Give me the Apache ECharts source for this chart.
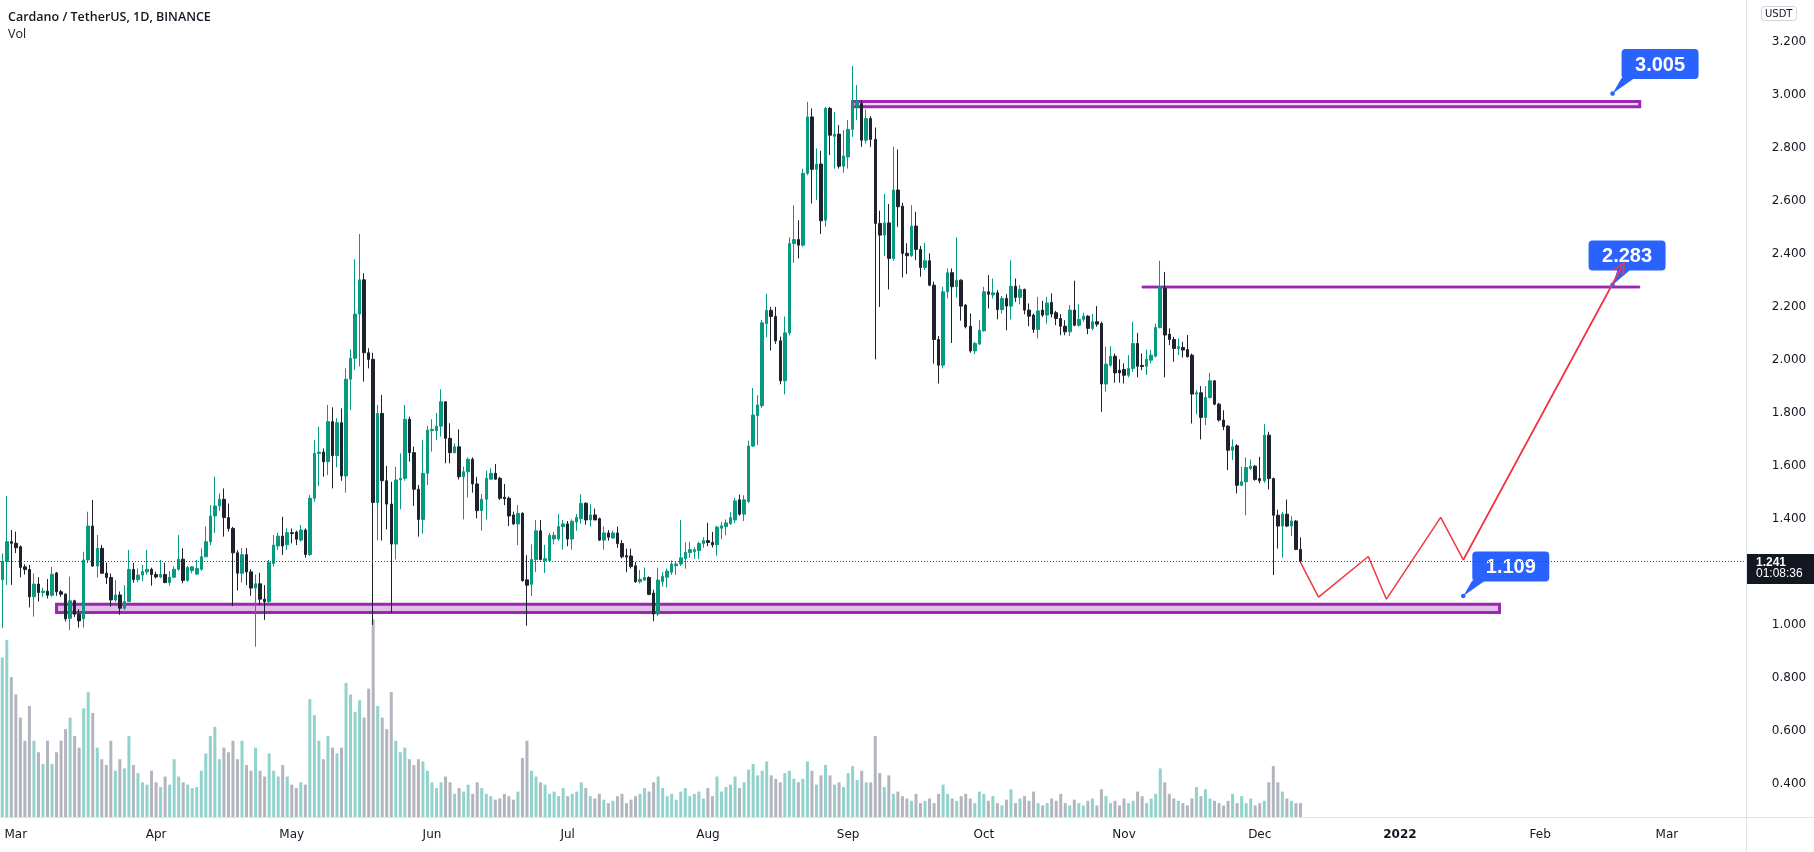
<!DOCTYPE html>
<html><head><meta charset="utf-8">
<script src="https://cdn.jsdelivr.net/npm/echarts@6/dist/echarts.min.js"></script>
<style>html,body{margin:0;padding:0;background:#fff}#c{width:1814px;height:852px}</style>
</head><body><div id="c"></div><script>
// ---------- DATA ----------
const startDay = '2021-02-26';
const axisDayCount = 386; // Feb 26 2021 .. Mar 18 2022
const openP = [1.170,1.239,1.314,1.308,1.295,1.219,1.209,1.106,1.154,1.122,
1.127,1.112,1.196,1.125,1.116,1.025,1.091,1.040,1.023,1.245,
1.373,1.222,1.289,1.195,1.179,1.094,1.113,1.063,1.088,1.209,
1.171,1.188,1.200,1.210,1.190,1.181,1.190,1.160,1.180,1.210,
1.248,1.168,1.205,1.192,1.210,1.257,1.314,1.411,1.449,1.474,
1.405,1.364,1.272,1.195,1.265,1.200,1.139,1.155,1.097,1.088,
1.232,1.298,1.335,1.302,1.348,1.350,1.320,1.358,1.266,1.478,
1.647,1.652,1.616,1.767,1.639,1.763,1.562,1.927,2.006,2.173,
2.302,2.027,2.002,1.462,1.798,1.544,1.456,1.305,1.547,1.553,
1.776,1.650,1.512,1.398,1.572,1.733,1.733,1.750,1.842,1.704,
1.650,1.672,1.559,1.578,1.625,1.532,1.431,1.474,1.550,1.572,
1.553,1.482,1.478,1.415,1.381,1.421,1.170,1.153,1.247,1.355,
1.243,1.243,1.324,1.324,1.371,1.381,1.324,1.388,1.401,1.459,
1.396,1.415,1.401,1.320,1.347,1.328,1.347,1.307,1.261,1.260,
1.223,1.163,1.169,1.179,1.120,1.041,1.163,1.180,1.199,1.223,
1.230,1.250,1.273,1.277,1.280,1.307,1.318,1.311,1.302,1.365,
1.371,1.382,1.396,1.472,1.418,1.466,1.675,1.790,1.827,2.137,
2.187,2.164,2.072,1.921,2.102,2.439,2.454,2.433,2.704,2.917,
2.719,2.739,2.527,2.949,2.844,2.852,2.731,2.766,2.870,2.958,
2.968,2.829,2.911,2.832,2.515,2.471,2.517,2.383,2.641,2.580,
2.402,2.393,2.505,2.417,2.349,2.374,2.282,2.077,1.980,2.257,
2.329,2.276,2.301,2.207,2.127,2.034,2.060,2.110,2.257,2.245,
2.253,2.190,2.232,2.203,2.278,2.236,2.266,2.188,2.169,2.115,
2.188,2.169,2.217,2.178,2.156,2.127,2.106,2.188,2.131,2.153,
2.165,2.119,2.144,2.137,1.909,1.980,2.014,1.961,1.964,1.942,
1.968,2.062,1.979,1.976,1.999,2.014,2.122,2.270,2.097,2.077,
2.043,2.047,2.039,2.018,1.871,1.876,1.783,1.858,1.921,1.833,
1.773,1.750,1.659,1.676,1.527,1.540,1.590,1.599,1.552,1.544,
1.716,1.552,1.414,1.373,1.418,1.373,1.392,1.285];
const highP = [1.270,1.486,1.358,1.352,1.300,1.229,1.226,1.194,1.180,1.140,
1.173,1.219,1.200,1.132,1.120,1.182,1.095,1.060,1.276,1.427,
1.471,1.339,1.302,1.235,1.194,1.169,1.126,1.150,1.283,1.234,
1.213,1.226,1.283,1.216,1.201,1.245,1.234,1.203,1.221,1.339,
1.289,1.222,1.222,1.245,1.289,1.371,1.452,1.559,1.496,1.515,
1.458,1.370,1.282,1.290,1.290,1.210,1.190,1.197,1.150,1.245,
1.339,1.348,1.408,1.364,1.364,1.356,1.377,1.364,1.490,1.698,
1.748,1.666,1.830,1.821,1.780,1.817,1.968,2.040,2.380,2.475,
2.327,2.044,2.027,1.830,1.868,1.600,1.540,1.597,1.647,1.830,
1.786,1.673,1.528,1.698,1.751,1.776,1.800,1.889,1.842,1.761,
1.685,1.738,1.597,1.632,1.632,1.559,1.494,1.582,1.591,1.607,
1.559,1.532,1.484,1.427,1.452,1.425,1.263,1.304,1.396,1.396,
1.302,1.347,1.351,1.418,1.396,1.392,1.398,1.418,1.493,1.463,
1.455,1.439,1.405,1.371,1.358,1.355,1.371,1.320,1.288,1.288,
1.237,1.207,1.216,1.183,1.133,1.216,1.199,1.213,1.243,1.237,
1.396,1.311,1.314,1.293,1.314,1.331,1.385,1.351,1.374,1.388,
1.398,1.425,1.479,1.492,1.489,1.695,1.894,1.867,2.150,2.250,
2.200,2.200,2.088,2.164,2.463,2.584,2.527,2.722,2.974,2.949,
2.798,2.789,2.955,2.955,2.936,2.886,2.867,2.905,3.109,3.037,
2.980,2.945,2.920,2.877,2.563,2.626,2.588,2.804,2.794,2.593,
2.440,2.584,2.559,2.430,2.442,2.402,2.295,2.090,2.276,2.345,
2.345,2.462,2.304,2.210,2.175,2.068,2.150,2.276,2.320,2.307,
2.263,2.241,2.248,2.376,2.307,2.282,2.269,2.213,2.175,2.238,
2.223,2.238,2.251,2.185,2.173,2.150,2.207,2.299,2.210,2.178,
2.169,2.173,2.203,2.144,2.050,2.052,2.024,2.002,1.987,2.018,
2.144,2.102,2.024,2.039,2.037,2.137,2.374,2.332,2.119,2.087,
2.081,2.068,2.094,2.024,1.886,1.901,1.901,1.951,1.924,1.838,
1.810,1.754,1.700,1.682,1.597,1.632,1.624,1.603,1.634,1.758,
1.729,1.556,1.435,1.427,1.473,1.410,1.396,1.330];
const lowP = [0.988,1.151,1.151,1.271,1.179,1.190,1.066,1.031,1.088,1.106,
1.100,1.106,1.110,1.106,1.013,0.980,1.030,0.990,0.990,1.233,
1.220,1.179,1.193,1.154,1.069,1.087,1.038,1.056,1.088,1.159,
1.162,1.166,1.190,1.148,1.175,1.176,1.157,1.148,1.176,1.204,
1.157,1.163,1.195,1.188,1.204,1.257,1.301,1.347,1.430,1.333,
1.352,1.071,1.130,1.160,1.150,1.110,0.918,1.075,1.019,1.080,
1.220,1.283,1.264,1.283,1.308,1.301,1.314,1.254,1.260,1.465,
1.524,1.559,1.566,1.515,1.595,1.544,1.499,1.811,1.962,1.975,
1.918,1.968,1.000,1.320,1.318,1.360,1.046,1.247,1.436,1.544,
1.616,1.449,1.333,1.345,1.528,1.654,1.698,1.710,1.610,1.610,
1.647,1.549,1.398,1.481,1.499,1.402,1.355,1.398,1.549,1.549,
1.471,1.452,1.373,1.377,1.301,1.163,0.997,1.109,1.199,1.243,
1.196,1.237,1.304,1.317,1.284,1.297,1.284,1.355,1.382,1.378,
1.371,1.396,1.317,1.284,1.318,1.324,1.291,1.251,1.199,1.213,
1.159,1.156,1.166,1.112,1.014,1.034,1.145,1.142,1.189,1.189,
1.223,1.212,1.253,1.250,1.248,1.291,1.297,1.292,1.261,1.324,
1.338,1.378,1.385,1.412,1.392,1.459,1.671,1.679,1.819,2.086,
2.035,2.061,1.908,1.870,2.093,2.366,2.383,2.427,2.697,2.590,
2.603,2.475,2.502,2.773,2.722,2.722,2.706,2.722,2.842,2.905,
2.804,2.817,2.804,2.002,2.200,2.392,2.266,2.374,2.502,2.311,
2.324,2.389,2.376,2.314,2.339,2.278,1.986,1.911,1.968,2.232,
2.064,2.236,2.148,2.119,2.027,2.022,2.056,2.106,2.194,2.232,
2.153,2.175,2.112,2.153,2.219,2.210,2.172,2.127,2.102,2.081,
2.162,2.137,2.160,2.131,2.093,2.093,2.090,2.127,2.125,2.144,
2.097,2.112,2.125,1.804,1.880,1.974,1.914,1.914,1.911,1.934,
1.955,1.934,1.961,1.943,1.987,2.009,2.119,1.934,2.056,1.993,
2.018,2.009,2.009,1.760,1.795,1.700,1.754,1.854,1.829,1.767,
1.735,1.584,1.622,1.496,1.524,1.414,1.584,1.544,1.534,1.536,
1.511,1.188,1.288,1.254,1.370,1.335,1.282,1.234];
const closeP = [1.239,1.314,1.308,1.291,1.217,1.209,1.106,1.154,1.122,1.127,
1.112,1.191,1.125,1.116,1.023,1.091,1.040,1.015,1.245,1.373,
1.222,1.289,1.195,1.179,1.094,1.113,1.063,1.088,1.209,1.171,
1.188,1.201,1.210,1.190,1.181,1.190,1.160,1.180,1.210,1.248,
1.168,1.217,1.219,1.213,1.257,1.314,1.411,1.449,1.474,1.405,
1.364,1.272,1.195,1.265,1.200,1.139,1.155,1.097,1.088,1.235,
1.301,1.335,1.298,1.348,1.345,1.323,1.358,1.266,1.478,1.647,
1.652,1.616,1.767,1.639,1.763,1.562,1.927,2.006,2.173,2.302,
2.027,2.002,1.462,1.798,1.544,1.456,1.305,1.547,1.553,1.776,
1.650,1.512,1.398,1.572,1.735,1.738,1.750,1.842,1.704,1.650,
1.672,1.559,1.578,1.625,1.532,1.431,1.474,1.553,1.572,1.550,
1.478,1.476,1.411,1.381,1.421,1.167,1.150,1.247,1.355,1.247,
1.250,1.338,1.338,1.371,1.381,1.324,1.391,1.405,1.459,1.396,
1.415,1.396,1.320,1.347,1.331,1.347,1.307,1.257,1.256,1.220,
1.163,1.172,1.179,1.115,1.041,1.169,1.183,1.203,1.230,1.230,
1.253,1.274,1.284,1.284,1.307,1.318,1.311,1.302,1.369,1.374,
1.385,1.405,1.468,1.418,1.472,1.675,1.792,1.830,2.140,2.187,
2.164,2.072,1.921,2.102,2.439,2.454,2.433,2.704,2.917,2.719,
2.739,2.525,2.949,2.848,2.852,2.731,2.769,2.870,2.974,2.974,
2.829,2.911,2.832,2.515,2.471,2.517,2.383,2.641,2.578,2.402,
2.393,2.505,2.417,2.349,2.374,2.282,2.077,1.980,2.257,2.329,
2.276,2.301,2.203,2.125,2.034,2.062,2.112,2.257,2.248,2.253,
2.190,2.232,2.203,2.278,2.236,2.266,2.188,2.165,2.115,2.185,
2.169,2.215,2.173,2.156,2.127,2.106,2.188,2.131,2.153,2.165,
2.119,2.144,2.135,1.909,1.984,2.014,1.951,1.951,1.942,1.968,
2.062,1.976,1.975,2.002,2.018,2.122,2.276,2.094,2.077,2.043,
2.050,2.037,2.012,1.871,1.876,1.783,1.858,1.921,1.833,1.773,
1.748,1.659,1.672,1.527,1.540,1.594,1.599,1.549,1.544,1.716,
1.552,1.414,1.373,1.418,1.373,1.392,1.285,1.241];
const volume = [138,153,121,106,86,66,96,66,
56,46,66,46,56,66,76,86,70,60,
94,108,
90,60,50,45,66,40,50,42,70,45,38,
30,28,40,30,26,35,28,50,35,30,28,25,26,40,55,
70,78,50,60,56,66,
50,66,45,40,60,40,35,55,
40,35,45,35,28,25,30,28,102,
88,66,50,70,60,55,60,116,106,91,101,86,
111,171,
96,86,76,108,66,56,60,50,
45,50,48,40,30,25,30,35,30,20,25,22,28,20,30,25,20,18,15,16,20,18,15,22,51,
66,
40,35,30,28,20,22,18,25,18,20,22,30,25,18,16,20,15,12,14,18,20,12,15,18,20,25,22,
30,35,
25,18,20,15,22,25,18,20,22,16,25,18,35,22,26,28,35,25,30,
41,46,36,40,48,36,33,30,38,40,33,
30,33,48,40,28,36,45,36,28,30,26,38,44,32,40,30,30,
70,
38,26,36,20,22,18,16,14,20,12,14,16,12,20,28,20,16,
14,18,20,16,12,22,20,14,18,12,10,15,24,12,16,18,14,22,12,10,12,16,14,20,12,10,15,12,10,14,16,10,24,18,12,14,10,16,12,14,22,18,12,16,20,
42,30,
20,16,14,12,10,16,26,18,24,16,14,12,10,14,20,12,18,12,16,10,12,14,30,
44,
30,22,16,14,12,12];
const priceTicks = {min:0.4, max:3.2, step:0.2};
// drawn zones (support / resistance boxes)
const zoneStart = ['2021-03-10','2021-09-02','2021-11-05'];
const zoneEnd   = ['2022-01-23','2022-02-23','2022-02-23'];
const zoneLow   = [1.047, 2.955, 2.2715];
const zoneHigh  = [1.078, 2.975, 2.2785];
// projected path
const projDates  = ['2021-12-10','2021-12-14','2021-12-25','2021-12-29','2022-01-10','2022-01-15','2022-02-19'];
const projPrices = [1.236,1.105,1.258,1.097,1.406,1.245,2.350];
// callout labels
const calloutDates  = ['2022-02-17','2022-02-17','2022-01-15'];
const calloutPrices = [3.005, 2.283, 1.109];
const lastPrice = 1.241;
const countdown = '01:08:36';
const monthNames = ['Jan','Feb','Mar','Apr','May','Jun','Jul','Aug','Sep','Oct','Nov','Dec'];

// ---------- BUILD ----------
const dates = [];
(function(){ const t0 = Date.parse(startDay+'T00:00:00Z'); for (let i=0;i<axisDayCount;i++){ dates.push(new Date(t0+i*86400000).toISOString().slice(0,10)); } })();

const UP = '#089981', DOWN = '#1e222d', VUP = '#92d2cc', VDOWN = '#b2b5be';
const PURPLE = '#9c27b0', BLUE = '#2962ff', RED = '#f23645';
const candleData = openP.map((o,i)=>[o, closeP[i], Math.min(lowP[i],o,closeP[i]), Math.max(highP[i],o,closeP[i])]);
const volData = volume.map((v,i)=>({value:v, itemStyle:{color: closeP[i]>=openP[i]?VUP:VDOWN}}));
const zoneStyles = [
  {color:'#e1bee7', borderColor:PURPLE, borderWidth:3},
  {color:'#f3d6f7', borderColor:PURPLE, borderWidth:3},
  {color:PURPLE, borderColor:PURPLE, borderWidth:1}
];
const markAreas = zoneStart.map((s,k)=>[{xAxis:s, yAxis:zoneHigh[k], itemStyle:zoneStyles[k]},{xAxis:zoneEnd[k], yAxis:zoneLow[k]}]);
const boxDx = [9,-24,9];
const AXFONT = 'DejaVu Sans';

const chart = echarts.init(document.getElementById('c'), null, {renderer:'canvas', width:1814, height:852});
chart.setOption({
  animation:false,
  backgroundColor:'#ffffff',
  title:[
    {text:'Cardano / TetherUS, 1D, BINANCE', left:8, top:11, padding:0, textStyle:{fontFamily:'Open Sans', fontSize:12.5, fontWeight:600, color:'#131722'}},
    {text:'Vol', left:8, top:28, padding:0, textStyle:{fontFamily:'Open Sans', fontSize:12.5, fontWeight:'normal', color:'#131722'}},
    {text:'USDT', left:1761, top:6, padding:[3,4,2,4], borderColor:'#d1d4dc', borderWidth:1, borderRadius:3, textStyle:{fontFamily:AXFONT, fontSize:10, fontWeight:'normal', color:'#131722'}}
  ],
  grid:[
    {left:0, right:68, top:41.9, bottom:68.1},
    {left:0, right:68, top:617, bottom:35}
  ],
  xAxis:[
    {type:'category', gridIndex:0, data:dates, boundaryGap:true, show:false},
    {type:'category', gridIndex:1, data:dates, boundaryGap:true,
     axisLine:{show:false}, axisTick:{show:false}, splitLine:{show:false},
     axisLabel:{interval:(i,v)=>v.slice(8)==='01', margin:12, color:'#131722', fontFamily:AXFONT, fontSize:12,
       formatter:(v)=>{ const m=+v.slice(5,7); return m===1 ? '{y|'+v.slice(0,4)+'}' : monthNames[m-1]; },
       rich:{y:{fontWeight:'bold', fontFamily:AXFONT, fontSize:12, color:'#131722'}}}}
  ],
  yAxis:[
    {type:'value', gridIndex:0, position:'right', min:priceTicks.min, max:priceTicks.max, interval:priceTicks.step,
     axisLine:{show:false}, axisTick:{show:false}, splitLine:{show:false},
     axisLabel:{formatter:(v)=>v.toFixed(3), margin:43, align:'center', color:'#131722', fontFamily:AXFONT, fontSize:12}},
    {type:'value', gridIndex:1, min:0, max:173, show:false}
  ],
  graphic:[
    {type:'line', silent:true, z:0, shape:{x1:1746.5, y1:0, x2:1746.5, y2:852}, style:{stroke:'#e0e3eb', lineWidth:1}},
    {type:'line', silent:true, z:0, shape:{x1:0, y1:817.5, x2:1814, y2:817.5}, style:{stroke:'#e0e3eb', lineWidth:1}}
  ],
  series:[
    {type:'bar', name:'Vol', xAxisIndex:1, yAxisIndex:1, data:volData, barWidth:3, z:1, silent:true},
    {type:'candlestick', name:'ADAUSDT', xAxisIndex:0, yAxisIndex:0, data:candleData, barWidth:3, z:3,
     itemStyle:{color:UP, color0:DOWN, borderColor:UP, borderColor0:DOWN, borderWidth:1},
     markArea:{silent:true, data:markAreas},
     markLine:{silent:true, symbol:'none', data:[{yAxis:lastPrice}], lineStyle:{type:[1,2], color:'#434651', width:1}, label:{show:false}}
    },
    {type:'custom', name:'callouts', xAxisIndex:0, yAxisIndex:0, z:4, silent:true,
     data:calloutDates.map((d,i)=>[d, calloutPrices[i]]),
     renderItem:(params, api)=>{
       const pt = api.coord([api.value(0), api.value(1)]);
       const idx = params.dataIndex;
       const bw=77, bh=30;
       const bx = pt[0]+boxDx[idx], by = pt[1]-44.5;
       const baseX = Math.max(bx, pt[0]+5);
       return {type:'group', children:[
         {type:'polygon', shape:{points:[[pt[0],pt[1]],[baseX,by+bh-1],[baseX+13,by+bh-1]]}, style:{fill:BLUE}},
         {type:'circle', shape:{cx:pt[0], cy:pt[1], r:2.3}, style:{fill:BLUE}},
         {type:'rect', shape:{x:bx, y:by, width:bw, height:bh, r:4}, style:{fill:BLUE}},
         {type:'text', style:{text:calloutPrices[idx].toFixed(3), x:bx+bw/2, y:by+bh/2+1, align:'center', verticalAlign:'middle', fill:'#ffffff', font:'bold 20px "Liberation Sans", Arial, sans-serif'}}
       ]};
     }
    },
    {type:'line', name:'projection', xAxisIndex:0, yAxisIndex:0, z:10, symbol:'none',
     data:projDates.map((d,i)=>[d, projPrices[i]]), lineStyle:{color:RED, width:1.5},
     markLine:{silent:true, z:10, symbol:['none','path://M0,10 L5,0 L10,10 L8.5,10 L5,3 L1.5,10 Z'], symbolSize:[13,13],
       lineStyle:{color:RED, width:1.5, type:'solid'}, label:{show:false},
       data:[[{coord:[projDates[5], projPrices[5]]},{coord:[projDates[6], projPrices[6]]}]]}
    },
    {type:'custom', name:'lastTag', xAxisIndex:0, yAxisIndex:0, z:7, silent:true,
     data:[[dates[closeP.length-1], lastPrice]],
     renderItem:(params, api)=>{
       const cs = params.coordSys;
       const pt = api.coord([api.value(0), api.value(1)]);
       const x0 = cs.x + cs.width + 1;
       return {type:'group', children:[
         {type:'rect', shape:{x:x0, y:pt[1]-7, width:1814-x0, height:30}, style:{fill:'#131722'}},
         {type:'text', style:{text:lastPrice.toFixed(3), x:x0+9, y:pt[1]+1.5, verticalAlign:'middle', fill:'#ffffff', font:'bold 12px "Liberation Sans", Arial, sans-serif'}},
         {type:'text', style:{text:countdown, x:x0+9, y:pt[1]+12.5, verticalAlign:'middle', fill:'#ffffff', font:'12px "Liberation Sans", Arial, sans-serif'}}
       ]};
     }
    }
  ]
});
</script></body></html>
